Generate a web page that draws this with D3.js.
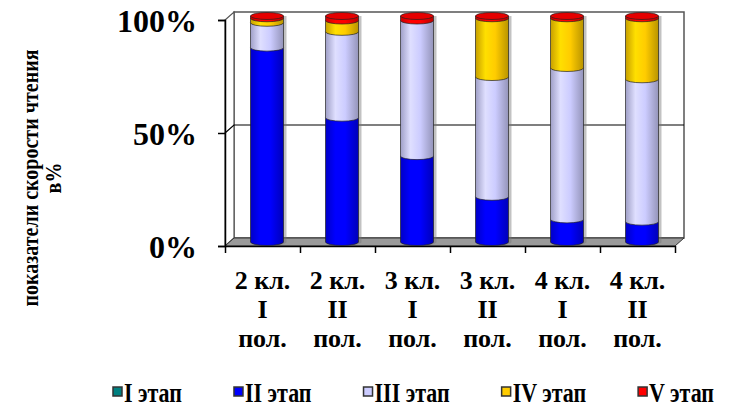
<!DOCTYPE html>
<html>
<head>
<meta charset="utf-8">
<script src="https://cdn.jsdelivr.net/npm/d3@7"></script>
<style>
  body { margin: 0; background: #fff; }
  svg { display: block; }
  text { font-family: "Liberation Serif", "Times New Roman", serif; font-weight: bold; fill: #000; }
</style>
</head>
<body>
<div id="chart"></div>
<script>
// categories (x tick labels, three lines each)
const categories = [
  ['2 кл.', 'I', 'пол.'],
  ['2 кл.', 'II', 'пол.'],
  ['3 кл.', 'I', 'пол.'],
  ['3 кл.', 'II', 'пол.'],
  ['4 кл.', 'I', 'пол.'],
  ['4 кл.', 'II', 'пол.']
]
const stageNames = ['I этап', 'II этап', 'III этап', 'IV этап', 'V этап']
const stageColors = ['#008080', '#0000FF', '#CCCCFF', '#FFCC00', '#FF0000']

// percentages per stage
const stageI = [0, 0, 0, 0, 0, 0]
const stageII = [86, 55, 38, 20, 10, 9]
const stageIII = [11, 38, 60, 53, 67, 63]
const stageIV = [2, 5, 0, 26, 22, 27]
const stageV = [1, 2, 2, 1, 1, 1]

const yTickValues = [0, 50, 100]
const yTitle = ['показатели скорости  чтения', 'в%']

const width = 740, height = 409
const depth = {dx: 9, dy: -8}

const svg = d3.select('#chart')
  .append('svg')
  .attr('width', width)
  .attr('height', height)

const defs = svg.append('defs')
stageColors.forEach((c, i) => {
  const g = defs.append('linearGradient')
    .attr('id', `grad${i}`)
    .attr('x1', '0%').attr('x2', '100%')
  const base = d3.color(c)
  g.append('stop').attr('offset', '0%').attr('stop-color', base.darker(0.7))
  g.append('stop').attr('offset', '30%').attr('stop-color', base.brighter(0.25))
  g.append('stop').attr('offset', '60%').attr('stop-color', base)
  g.append('stop').attr('offset', '100%').attr('stop-color', base.darker(0.9))
})

const x0 = 225, x1 = 675
const y = d3.scaleLinear().domain([0, 100]).range([246, 20])
const xb = d3.scaleBand().domain(d3.range(categories.length)).range([x0, x1])
const xt = d3.scaleLinear().domain([0, categories.length]).range([x0, x1])

// walls
const wall = svg.append('g')
const bx0 = x0 + depth.dx, bx1 = x1 + depth.dx
wall.append('rect')
  .attr('x', bx0).attr('y', y(100) + depth.dy)
  .attr('width', bx1 - bx0).attr('height', y(0) - y(100))
  .attr('fill', '#fff').attr('stroke', '#555').attr('stroke-width', 1.5)
// side wall
wall.append('path')
  .attr('d', `M${x0},${y(0)}L${x0},${y(100)}L${bx0},${y(100) + depth.dy}L${bx0},${y(0) + depth.dy}Z`)
  .attr('fill', '#fff').attr('stroke', '#555').attr('stroke-width', 1.2)
// gridline 50%
const yg = y(50)
wall.append('path')
  .attr('d', `M${x0},${yg}L${bx0},${yg + depth.dy}L${bx1},${yg + depth.dy}`)
  .attr('fill', 'none').attr('stroke', '#000').attr('stroke-width', 1.2)
// floor
wall.append('path')
  .attr('d', `M${x0},${y(0)}L${bx0},${y(0) + depth.dy}L${bx1},${y(0) + depth.dy}L${x1},${y(0)}Z`)
  .attr('fill', '#9a9a9a').attr('stroke', '#333').attr('stroke-width', 1)

// axes
const yAxis = svg.append('g')
  .attr('transform', `translate(${x0},0)`)
  .call(d3.axisLeft(y).tickValues(yTickValues).tickFormat(d => d + '%').tickSize(7).tickPadding(21))
yAxis.select('.domain').attr('stroke', '#000').attr('stroke-width', 1.5)
yAxis.selectAll('.tick line').attr('stroke', '#000').attr('stroke-width', 1.5)
yAxis.selectAll('.tick text')
  .style('font-family', '"Liberation Serif", serif')
  .style('font-weight', 'bold')
  .style('font-size', '32px')
  .attr('dy', '0.36em')

const xAxis = svg.append('g')
  .attr('transform', `translate(0,${y(0)})`)
  .call(d3.axisBottom(xt).tickValues(d3.range(categories.length + 1)).tickFormat('').tickSize(7).tickSizeOuter(0))
xAxis.select('.domain').attr('stroke', '#000').attr('stroke-width', 1.5)
xAxis.selectAll('.tick line').attr('stroke', '#000').attr('stroke-width', 1.5)

const labels = svg.append('g')
categories.forEach((lines, i) => {
  const t = labels.append('text')
    .attr('x', xb(i) + xb.bandwidth() / 2)
    .attr('y', 289)
    .attr('text-anchor', 'middle')
    .style('font-size', '26px')
  lines.forEach((ln, j) => {
    t.append('tspan')
      .attr('x', xb(i) + xb.bandwidth() / 2)
      .attr('dy', j === 0 ? 0 : 29)
      .text(ln)
  })
})

// stacked cylinders
const series = [stageI, stageII, stageIII, stageIV, stageV]
const barW = xb.bandwidth() * 0.44
const rx = barW / 2, ry = 3.5
const bars = svg.append('g')
categories.forEach((c, i) => {
  const cx = xb(i) + xb.bandwidth() / 2 + depth.dx / 2
  const off = depth.dy / 2
  const left = cx - rx, right = cx + rx
  let cum = 0
  let lastIdx = -1
  const segs = []
  series.forEach((s, k) => {
    if (s[i] > 0) {
      segs.push({k, y0: cum, y1: cum + s[i]})
      lastIdx = k
    }
    cum += s[i]
  })
  // shadow
  bars.append('path')
    .attr('d', `M${left + 3},${y(cum) + off}L${left + 3},${y(0) + off}A${rx},${ry} 0 0 0 ${right + 3},${y(0) + off}L${right + 3},${y(cum) + off}Z`)
    .attr('fill', '#777').attr('opacity', 0.45)
  segs.forEach(sg => {
    const yb = y(sg.y0) + off, ytop = y(sg.y1) + off
    bars.append('path')
      .attr('d', `M${left},${ytop}L${left},${yb}A${rx},${ry} 0 0 0 ${right},${yb}L${right},${ytop}Z`)
      .attr('fill', `url(#grad${sg.k})`)
      .attr('stroke', '#222').attr('stroke-width', 0.7)
  })
  const top = segs[segs.length - 1]
  bars.append('ellipse')
    .attr('cx', cx).attr('cy', y(top.y1) + off)
    .attr('rx', rx).attr('ry', ry)
    .attr('fill', d3.color(stageColors[lastIdx]).darker(0.3))
    .attr('stroke', '#222').attr('stroke-width', 0.7)
})

// y title
const title = svg.append('text')
  .attr('transform', 'translate(38,178) rotate(-90) scale(1,1.15)')
  .attr('text-anchor', 'middle')
  .style('font-size', '20px')
yTitle.forEach((ln, j) => {
  title.append('tspan').attr('x', 0).attr('dy', j === 0 ? 0 : 20).text(ln)
})

// legend
const legend = svg.append('g')
let lx = 113
stageNames.forEach((name, i) => {
  legend.append('rect')
    .attr('x', lx).attr('y', 387)
    .attr('width', 9).attr('height', 9)
    .attr('fill', stageColors[i])
    .attr('stroke', '#333').attr('stroke-width', 1.5)
  const t = legend.append('text')
    .attr('transform', `translate(${lx + 11},402) scale(1,1.2)`)
    .style('font-size', '22px')
    .text(name)
  lx += 11 + t.node().getComputedTextLength() + 52
})
</script>
</body>
</html>
